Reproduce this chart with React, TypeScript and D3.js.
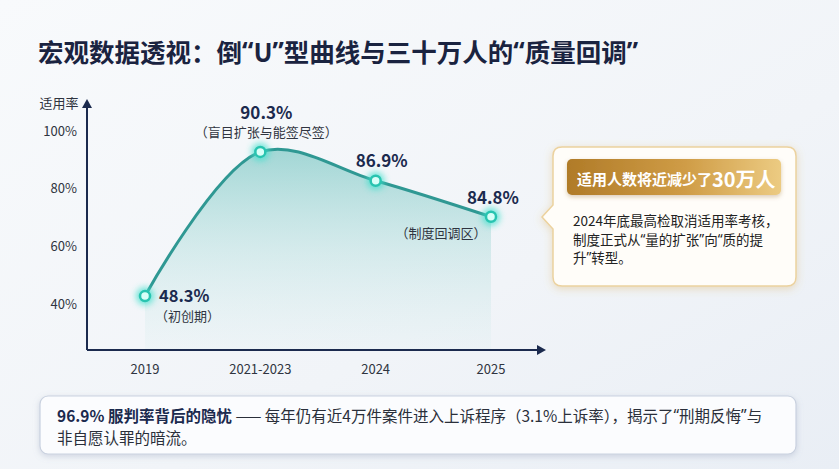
import React from "react";
import * as d3 from "d3";

const categories = ["2019", "2021-2023", "2024", "2025"];
// positions of the points (percent)
const plotted = [42.4, 92.4, 82.4, 69.9];
const valueLabels = ["48.3%", "90.3%", "86.9%", "84.8%"];
const phaseLabels = ["（初创期）", "（盲目扩张与能签尽签）", "", "（制度回调区）"];
const yTicks = [40, 60, 80, 100];

const title = "宏观数据透视：倒“U”型曲线与三十万人的“质量回调”";
const yAxisTitle = "适用率";
const calloutHeadA = "适用人数将近减少了";
const calloutHeadB = "30万人";
const calloutBody = ["2024年底最高检取消适用率考核，", "制度正式从“量的扩张”向“质的提", "升”转型。"];
const noteBold = "96.9% 服判率背后的隐忧";
const noteRest = " —— 每年仍有近4万件案件进入上诉程序（3.1%上诉率），揭示了“刑期反悔”与";
const noteLine2 = "非自愿认罪的暗流。";

const W = 839;
const H = 469;
const FONT = "'Noto Sans CJK SC', 'Noto Sans', sans-serif";
const QUOTE_FONT = "'Noto Sans', 'DejaVu Sans', sans-serif";

// render curly quotes with a proportional latin font so they stay narrow
function withQuotes(s: string, keyPrefix: string) {
  const parts = s.split(/([“”])/);
  return parts
    .filter((p) => p.length > 0)
    .map((p, i) =>
      p === "“" || p === "”" ? (
        <tspan key={keyPrefix + i} fontFamily={QUOTE_FONT}>
          {p}
        </tspan>
      ) : (
        <tspan key={keyPrefix + i}>{p}</tspan>
      )
    );
}

export default function App() {
  const x = d3.scalePoint<string>().domain(categories).range([145, 491]);
  const y = d3.scaleLinear().domain([40, 100]).range([303, 130]);
  const axisX = 87;
  const axisY = 350;

  const pts = categories.map((c, i) => ({ c, v: plotted[i], px: x(c) as number, py: y(plotted[i]) }));

  const line = d3
    .line<{ px: number; py: number }>()
    .x((d) => d.px)
    .y((d) => d.py)
    .curve(d3.curveCatmullRom.alpha(0.5));
  const area = d3
    .area<{ px: number; py: number }>()
    .x((d) => d.px)
    .y0(axisY)
    .y1((d) => d.py)
    .curve(d3.curveCatmullRom.alpha(0.5));

  const navy = "#1b2a4e";
  const txt = "#2f3440";

  // callout box geometry
  const bx = 553, by = 147, bw = 243, bh = 139, r = 9;
  const tipY = 217;
  const calloutPath = `M${bx + r},${by} H${bx + bw - r} Q${bx + bw},${by} ${bx + bw},${by + r} V${by + bh - r} Q${bx + bw},${by + bh} ${bx + bw - r},${by + bh} H${bx + r} Q${bx},${by + bh} ${bx},${by + bh - r} V${tipY + 12} L${bx - 11},${tipY} L${bx},${tipY - 12} V${by + r} Q${bx},${by} ${bx + r},${by} Z`;

  return (
    <svg
      width={W}
      height={H}
      viewBox={`0 0 ${W} ${H}`}
      style={{ position: "absolute", left: 0, top: 0, fontFamily: FONT }}
    >
      <defs>
        <linearGradient id="bg" x1="0" y1="0" x2="1" y2="1">
          <stop offset="0%" stopColor="#f8fafc" />
          <stop offset="60%" stopColor="#f1f4f8" />
          <stop offset="100%" stopColor="#e9eef5" />
        </linearGradient>
        <linearGradient id="areaGrad" gradientUnits="userSpaceOnUse" x1="0" y1="150" x2="0" y2="350">
          <stop offset="0%" stopColor="#4fb6b0" stopOpacity="0.5" />
          <stop offset="50%" stopColor="#8ed1cd" stopOpacity="0.3" />
          <stop offset="100%" stopColor="#d3ecec" stopOpacity="0.15" />
        </linearGradient>
        <linearGradient id="gold" x1="0" y1="0" x2="1" y2="0">
          <stop offset="0%" stopColor="#b07b28" />
          <stop offset="55%" stopColor="#cf9c46" />
          <stop offset="100%" stopColor="#eccb82" />
        </linearGradient>
        <filter id="glow" x="-100%" y="-100%" width="300%" height="300%">
          <feGaussianBlur stdDeviation="3" />
        </filter>
        <filter id="goldShadow" x="-20%" y="-20%" width="140%" height="140%">
          <feDropShadow dx="0" dy="2" stdDeviation="4" floodColor="#d9a84a" floodOpacity="0.35" />
        </filter>
        <filter id="headShadow" x="-20%" y="-30%" width="140%" height="180%">
          <feDropShadow dx="0" dy="2" stdDeviation="2" floodColor="#8a5d14" floodOpacity="0.3" />
        </filter>
        <filter id="noteShadow" x="-5%" y="-30%" width="110%" height="170%">
          <feDropShadow dx="0" dy="2" stdDeviation="3" floodColor="#7d8cab" floodOpacity="0.3" />
        </filter>
      </defs>

      <rect x={0} y={0} width={W} height={H} fill="url(#bg)" />

      {/* title */}
      <text x={38} y={50} dominantBaseline="central" fontSize={25.5} fontWeight={700} fill="#1a2340">
        {withQuotes(title, "t")}
      </text>

      {/* area and line */}
      <path d={area(pts) || ""} fill="url(#areaGrad)" />
      <path d={line(pts) || ""} fill="none" stroke="#2f9893" strokeWidth={3} strokeLinecap="round" />

      {/* axes */}
      <line x1={axisX} y1={axisY} x2={axisX} y2={106} stroke={navy} strokeWidth={2} />
      <path d={`M${axisX},99 L${axisX - 5},108 L${axisX + 5},108 Z`} fill={navy} />
      <line x1={axisX} y1={axisY} x2={539} y2={axisY} stroke={navy} strokeWidth={2} />
      <path d={`M546,${axisY} L537,${axisY - 5} L537,${axisY + 5} Z`} fill={navy} />

      <text x={59} y={102} textAnchor="middle" dominantBaseline="central" fontSize={13} fill={txt}>
        {yAxisTitle}
      </text>
      {yTicks.map((t) => (
        <text key={t} x={77} y={y(t)} textAnchor="end" dominantBaseline="central" fontSize={13} fill={txt}>
          {t}%
        </text>
      ))}
      {categories.map((c) => (
        <text key={c} x={x(c)} y={368} textAnchor="middle" dominantBaseline="central" fontSize={13} fill={txt}>
          {c}
        </text>
      ))}

      {/* points */}
      {pts.map((p) => (
        <g key={p.c}>
          <circle cx={p.px} cy={p.py} r={9} fill="#3fe0cc" opacity={0.75} filter="url(#glow)" />
          <circle cx={p.px} cy={p.py} r={5} fill="#d8fff8" stroke="#28c4b0" strokeWidth={2.5} />
        </g>
      ))}

      {/* point labels */}
      <text x={pts[0].px + 14} y={pts[0].py - 1} dominantBaseline="central" fontSize={16.5} fontWeight={700} fill={navy}>
        {valueLabels[0]}
      </text>
      <text x={pts[0].px + 10} y={pts[0].py + 19} dominantBaseline="central" fontSize={13} fill={txt}>
        {phaseLabels[0]}
      </text>

      <text x={pts[1].px + 6} y={pts[1].py - 40} textAnchor="middle" dominantBaseline="central" fontSize={17} fontWeight={700} fill={navy}>
        {valueLabels[1]}
      </text>
      <text x={pts[1].px + 6} y={pts[1].py - 20} textAnchor="middle" dominantBaseline="central" fontSize={13} fill={txt}>
        {phaseLabels[1]}
      </text>

      <text x={pts[2].px + 6} y={pts[2].py - 21} textAnchor="middle" dominantBaseline="central" fontSize={17} fontWeight={700} fill={navy}>
        {valueLabels[2]}
      </text>

      <text x={pts[3].px + 2} y={pts[3].py - 20} textAnchor="middle" dominantBaseline="central" fontSize={17} fontWeight={700} fill={navy}>
        {valueLabels[3]}
      </text>
      <text x={pts[3].px - 50} y={pts[3].py + 16} textAnchor="middle" dominantBaseline="central" fontSize={13} fill={txt}>
        {phaseLabels[3]}
      </text>

      {/* callout */}
      <path d={calloutPath} fill="#fffdf9" stroke="#ecd29e" strokeWidth={1.5} filter="url(#goldShadow)" />
      <rect x={567} y={159} width={214} height={36} rx={5} fill="url(#gold)" filter="url(#headShadow)" />
      <text x={577} y={178} dominantBaseline="central" fill="#ffffff" fontWeight={700}>
        <tspan fontSize={15}>{calloutHeadA}</tspan>
        <tspan fontSize={20}>{calloutHeadB}</tspan>
      </text>
      {calloutBody.map((l, i) => (
        <text key={i} x={573} y={220 + i * 18.5} dominantBaseline="central" fontSize={13.5} fill="#222">
          {withQuotes(l, "c" + i)}
        </text>
      ))}

      {/* bottom note */}
      <rect x={40} y={396} width={756} height={58} rx={8} fill="#fbfcfe" stroke="#c9d1df" strokeWidth={1.2} filter="url(#noteShadow)" />
      <text x={57} y={415} dominantBaseline="central" fontSize={15.5}>
        <tspan fontWeight={700} fill={navy}>{noteBold}</tspan>
        <tspan fill="#2a2f3a">{withQuotes(noteRest, "n")}</tspan>
      </text>
      <text x={57} y={437} dominantBaseline="central" fontSize={15.5} fill="#2a2f3a">
        {noteLine2}
      </text>
    </svg>
  );
}
